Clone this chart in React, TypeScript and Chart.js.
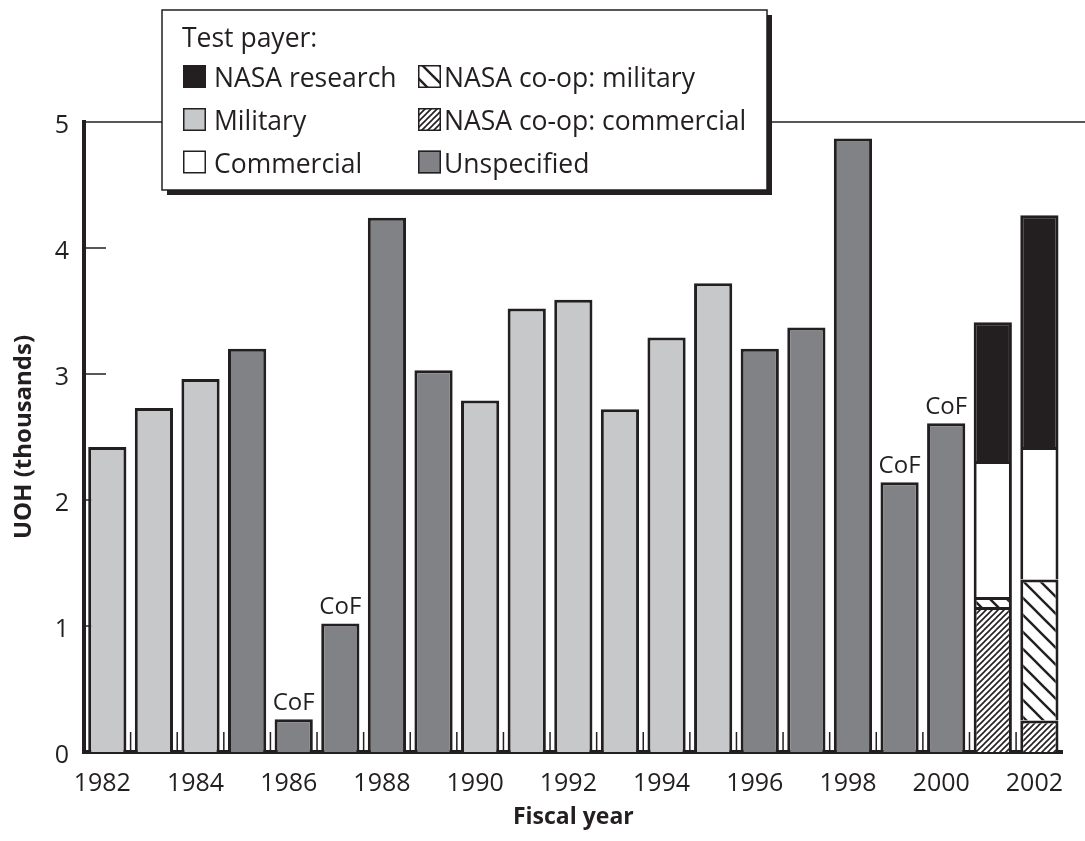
import React, { useEffect, useRef } from 'react';
import { Chart, registerables } from 'chart.js';

Chart.register(...registerables);

// ---------- data ----------
const years = [
  '1982', '1983', '1984', '1985', '1986', '1987', '1988', '1989', '1990', '1991', '1992',
  '1993', '1994', '1995', '1996', '1997', '1998', '1999', '2000', '2001', '2002',
];
const military = [2.42, 2.73, 2.96, null, null, null, null, null, 2.79, 3.52, 3.59, 2.72, 3.29, 3.72, null, null, null, null, null, null, null];
const unspecified = [null, null, null, 3.2, 0.26, 1.02, 4.24, 3.03, null, null, null, null, null, null, 3.2, 3.37, 4.87, 2.14, 2.61, null, null];
const coopCommercial = [null, null, null, null, null, null, null, null, null, null, null, null, null, null, null, null, null, null, null, 1.15, 0.25];
const coopMilitary = [null, null, null, null, null, null, null, null, null, null, null, null, null, null, null, null, null, null, null, 0.08, 1.12];
const commercial = [null, null, null, null, null, null, null, null, null, null, null, null, null, null, null, null, null, null, null, 1.08, 1.05];
const nasaResearch = [null, null, null, null, null, null, null, null, null, null, null, null, null, null, null, null, null, null, null, 1.1, 1.84];
const cofYears = ['1986', '1987', '1999', '2000'];
const yTickValues = [0, 1, 2, 3, 4, 5];
const labelledYears = ['1982', '1984', '1986', '1988', '1990', '1992', '1994', '1996', '1998', '2000', '2002'];
const legendTitle = 'Test payer:';
const legendColumns = [
  ['NASA research', 'Military', 'Commercial'],
  ['NASA co-op: military', 'NASA co-op: commercial', 'Unspecified'],
];

// ---------- styles ----------
const INK = '#231f20';
const LIGHT = '#c7c8ca';
const DARK = '#808285';
const FONT = '"Open Sans", "Noto Sans", sans-serif';

function makeHatch(ctx: CanvasRenderingContext2D, size: number, lw: number, dir: '/' | '\\') {
  const c = document.createElement('canvas');
  c.width = size;
  c.height = size;
  const p = c.getContext('2d')!;
  p.fillStyle = '#ffffff';
  p.fillRect(0, 0, size, size);
  p.strokeStyle = INK;
  p.lineWidth = lw;
  p.lineCap = 'square';
  for (let k = -1; k <= 1; k++) {
    p.beginPath();
    if (dir === '/') {
      p.moveTo(k * size, size);
      p.lineTo(k * size + size, 0);
    } else {
      p.moveTo(k * size, 0);
      p.lineTo(k * size + size, size);
    }
    p.stroke();
  }
  return ctx.createPattern(c, 'repeat')!;
}

const decorPlugin = {
  id: 'decor',
  beforeDatasetsDraw(chart: any) {
    const { ctx, chartArea, scales } = chart;
    const x = scales.x;
    const y = scales.y;
    ctx.save();
    ctx.strokeStyle = INK;
    ctx.lineWidth = 1.5;
    // top frame line at max value
    const yTop = y.getPixelForValue(5);
    ctx.beginPath();
    ctx.moveTo(chartArea.left, yTop);
    ctx.lineTo(chart.width, yTop);
    ctx.stroke();
    // inner y ticks
    for (const v of yTickValues) {
      if (v === 0 || v === 5) continue;
      const yy = y.getPixelForValue(v);
      ctx.beginPath();
      ctx.moveTo(chartArea.left, yy);
      ctx.lineTo(chartArea.left + 22, yy);
      ctx.stroke();
    }
    // x ticks at category boundaries
    for (let i = 0; i < years.length - 1; i++) {
      const xx = (x.getPixelForValue(i) + x.getPixelForValue(i + 1)) / 2;
      ctx.beginPath();
      ctx.moveTo(xx, chartArea.bottom);
      ctx.lineTo(xx, chartArea.bottom - 20);
      ctx.stroke();
    }
    ctx.restore();
  },
  afterDatasetsDraw(chart: any) {
    const { ctx } = chart;
    const dsIndex = chart.data.datasets.findIndex((d: any) => d.label === 'Unspecified');
    const meta = chart.getDatasetMeta(dsIndex);
    ctx.save();
    ctx.fillStyle = INK;
    ctx.font = `24px ${FONT}`;
    ctx.textAlign = 'center';
    ctx.textBaseline = 'alphabetic';
    for (const yr of cofYears) {
      const i = years.indexOf(yr);
      const el = meta.data[i];
      if (!el) continue;
      ctx.fillText('CoF', el.x, el.y - 9);
    }
    ctx.restore();
  },
  afterDraw(chart: any) {
    const { ctx } = chart;
    const bx = 162;
    const by = 10;
    const bw = 605;
    const bh = 180;
    ctx.save();
    // shadow
    ctx.fillStyle = INK;
    ctx.fillRect(bx + 5, by + 5, bw, bh);
    // box
    ctx.fillStyle = '#ffffff';
    ctx.fillRect(bx, by, bw, bh);
    ctx.strokeStyle = INK;
    ctx.lineWidth = 1.5;
    ctx.strokeRect(bx, by, bw, bh);
    // title
    ctx.fillStyle = INK;
    ctx.font = `26.5px ${FONT}`;
    ctx.textAlign = 'left';
    ctx.textBaseline = 'alphabetic';
    ctx.fillText(legendTitle, 182, 47);
    const colSwatchX = [183, 418];
    const colTextX = [214, 444];
    const rowBase = [87, 130, 172.5];
    legendColumns.forEach((col, ci) => {
      col.forEach((label, ri) => {
        const ds = chart.data.datasets.find((d: any) => d.label === label);
        const sx = colSwatchX[ci];
        const sy = rowBase[ri] - 22;
        ctx.fillStyle = ds.backgroundColor;
        ctx.fillRect(sx, sy, 23, 23);
        ctx.strokeStyle = INK;
        ctx.lineWidth = 1.5;
        ctx.strokeRect(sx + 0.75, sy + 0.75, 21.5, 21.5);
        ctx.fillStyle = INK;
        ctx.fillText(label, colTextX[ci], rowBase[ri]);
      });
    });
    ctx.restore();
  },
};

export default function App() {
  const canvasRef = useRef<HTMLCanvasElement | null>(null);

  useEffect(() => {
    document.body.style.margin = '0';
    const canvas = canvasRef.current!;
    const ctx = canvas.getContext('2d')!;
    const milHatch = makeHatch(ctx, 17, 2.4, '\\');
    const comHatch = makeHatch(ctx, 6, 1.6, '/');

    const barCommon = {
      borderColor: INK,
      borderWidth: 3,
      barPercentage: 0.82,
      categoryPercentage: 1,
      stack: 'uoh',
    };

    const chart = new Chart(canvas, {
      type: 'bar',
      data: {
        labels: years,
        datasets: [
          { label: 'NASA co-op: commercial', data: coopCommercial, backgroundColor: comHatch, ...barCommon },
          { label: 'NASA co-op: military', data: coopMilitary, backgroundColor: milHatch, ...barCommon },
          { label: 'Commercial', data: commercial, backgroundColor: '#ffffff', ...barCommon },
          { label: 'NASA research', data: nasaResearch, backgroundColor: INK, ...barCommon },
          { label: 'Military', data: military, backgroundColor: LIGHT, ...barCommon },
          { label: 'Unspecified', data: unspecified, backgroundColor: DARK, ...barCommon },
        ] as any,
      },
      options: {
        animation: false,
        responsive: false,
        maintainAspectRatio: false,
        layout: { padding: { top: 122, right: 1, left: 0, bottom: 0 } },
        plugins: {
          legend: { display: false },
          tooltip: { enabled: false },
        },
        scales: {
          x: {
            stacked: true,
            offset: true,
            z: 1,
            grid: { display: false, drawTicks: false },
            border: { display: true, width: 4, color: INK },
            ticks: {
              autoSkip: false,
              maxRotation: 0,
              minRotation: 0,
              padding: 17,
              labelOffset: -5,
              color: INK,
              font: { family: FONT, size: 25 },
              callback: function (this: any, value: any) {
                const lbl = this.getLabelForValue(value);
                return labelledYears.includes(lbl) ? lbl : '';
              },
            },
            title: {
              display: true,
              text: 'Fiscal year',
              color: INK,
              font: { family: FONT, size: 23, weight: 'bold' },
              padding: { top: 0, bottom: 10 },
            },
            afterFit(scale: any) {
              scale.height = 89;
            },
          },
          y: {
            stacked: true,
            min: 0,
            max: 5,
            z: 1,
            grid: { display: false, drawTicks: false },
            border: { display: true, width: 4, color: INK },
            ticks: {
              stepSize: 1,
              padding: 15,
              labelOffset: 4,
              color: INK,
              font: { family: FONT, size: 25 },
            },
            title: {
              display: true,
              text: 'UOH (thousands)',
              color: INK,
              font: { family: FONT, size: 24, weight: 'bold' },
              padding: { top: 10, bottom: 0 },
            },
            afterFit(scale: any) {
              scale.width = 84;
            },
          },
        },
      } as any,
      plugins: [decorPlugin],
    });
    return () => chart.destroy();
  }, []);

  return <canvas ref={canvasRef} width={1085} height={841} style={{ display: 'block' }} />;
}
